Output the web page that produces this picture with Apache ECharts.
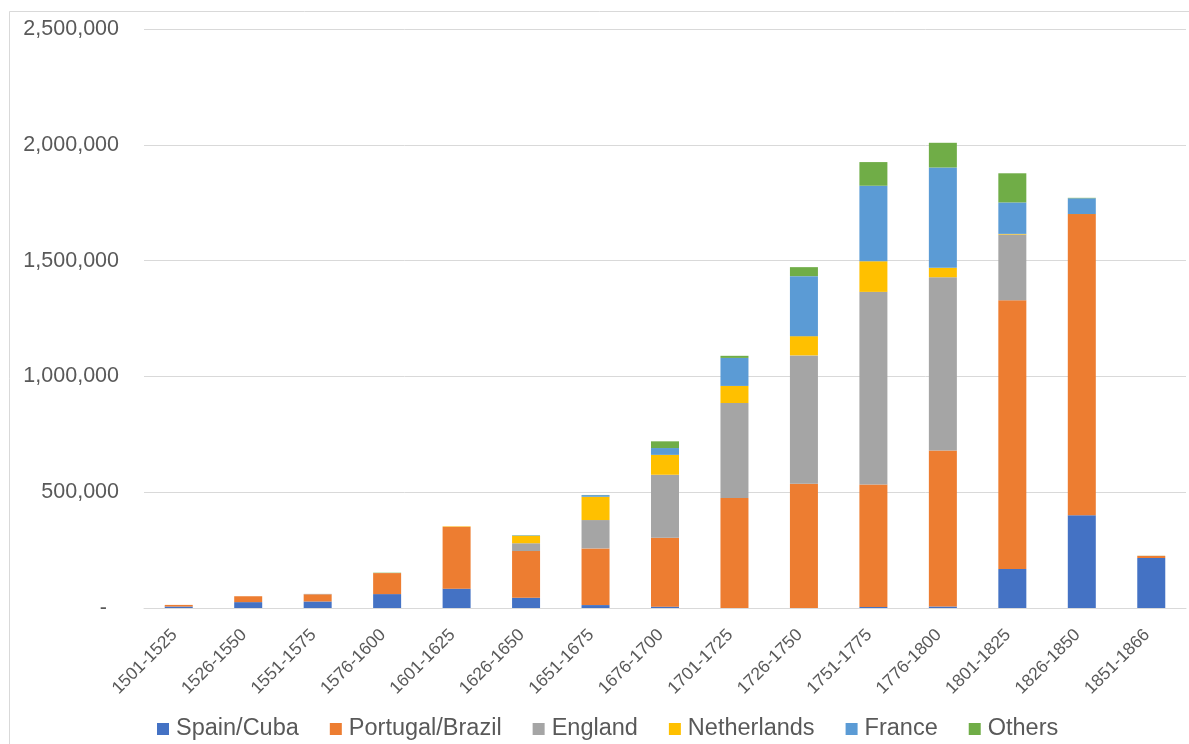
<!DOCTYPE html>
<html><head><meta charset="utf-8">
<script src="https://cdn.jsdelivr.net/npm/echarts@6/dist/echarts.min.js"></script>
<style>html,body{margin:0;padding:0;background:#fff}#c{width:1189px;height:744px}</style>
</head><body><div id="c"></div>
<script>
var categories = ['1501-1525','1526-1550','1551-1575','1576-1600','1601-1625','1626-1650','1651-1675','1676-1700','1701-1725','1726-1750','1751-1775','1776-1800','1801-1825','1826-1850','1851-1866'];
var spainCuba      = [6363, 25375, 28167, 60056, 83496, 44313, 12601, 5860, 0, 0, 4239, 6415, 168087, 400728, 215824];
var portugalBrazil = [7000, 25387, 31089, 90715, 267519, 201609, 244793, 297272, 474447, 536696, 528693, 673167, 1160601, 1299969, 9309];
var england        = [0, 0, 1685, 237, 0, 33695, 122367, 272200, 410597, 554042, 832047, 748612, 283959, 0, 0];
var netherlands    = [0, 0, 0, 0, 1829, 31729, 100526, 85847, 73816, 83095, 132330, 40773, 2669, 357, 0];
var france         = [0, 0, 0, 0, 0, 1827, 7125, 29484, 120939, 259095, 325918, 433061, 135815, 68074, 0];
var others         = [0, 0, 0, 1365, 0, 1093, 652, 29000, 9110, 38797, 102155, 106642, 125861, 1850, 476];
var yTicks = [0, 500000, 1000000, 1500000, 2000000, 2500000];

var seriesNames = ['Spain/Cuba','Portugal/Brazil','England','Netherlands','France','Others'];
var seriesData = [spainCuba, portugalBrazil, england, netherlands, france, others];
var colors = ['#4472C4','#ED7D31','#A5A5A5','#FFC000','#5B9BD5','#70AD47'];
var font = 'Arial, "Liberation Sans", sans-serif';

var chart = echarts.init(document.getElementById('c'), null, {renderer:'canvas'});
chart.setOption({
  animation: false,
  backgroundColor: '#fff',
  color: colors,
  graphic: [{type:'rect', shape:{x:9.5, y:11.5, width:1300, height:900}, style:{fill:'none', stroke:'#D9D9D9', lineWidth:1}, silent:true}],
  grid: {left:144, right:3, top:29, bottom:136, containLabel:false},
  legend: {
    top: 712, left: 152,
    itemWidth: 12, itemHeight: 12, itemGap: 31, icon: 'rect',
    textStyle: {fontFamily: font, fontSize: 23.5, color: '#595959', padding:[0,0,0,2]},
    data: seriesNames
  },
  xAxis: {
    type: 'category', data: categories,
    axisLine: {lineStyle:{color:'#D9D9D9', width:1}},
    axisTick: {show:false},
    axisLabel: {rotate:45, fontFamily:font, fontSize:17.5, color:'#595959', margin:20, interval:0, padding:[0,6,0,0]}
  },
  yAxis: {
    type: 'value', min: yTicks[0], max: yTicks[yTicks.length-1], interval: yTicks[1]-yTicks[0],
    axisLine: {show:false}, axisTick: {show:false},
    splitLine: {lineStyle:{color:'#D9D9D9', width:1}},
    axisLabel: {
      fontFamily:font, fontSize:21.5, color:'#595959', margin:25,
      formatter: function(v){ return v === 0 ? '{d|-}' : v.toLocaleString('en-US'); },
      rich: {d:{fontFamily:font, fontSize:21.5, color:'#595959', padding:[0,12,0,0]}}
    }
  },
  series: seriesNames.map(function(n,i){
    return {name:n, type:'bar', stack:'total', data:seriesData[i], barWidth:28,
      itemStyle:{color:colors[i]}};
  })
});
</script></body></html>
